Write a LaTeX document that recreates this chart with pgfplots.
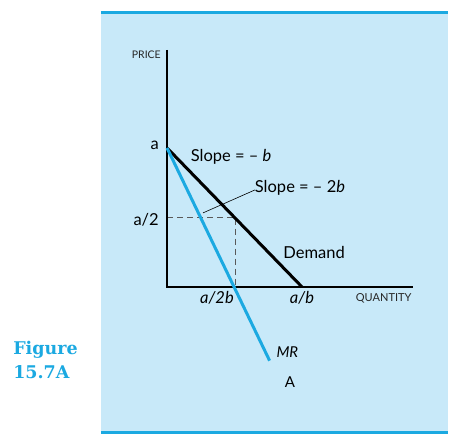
\documentclass[border=0pt]{standalone}
\usepackage{fontspec}
\setmainfont{Lato}
\newfontfamily\figfont{DejaVu Serif}
\usepackage{pgfplots}
\pgfplotsset{compat=1.18}
\definecolor{panelblue}{RGB}{200,233,249}
\definecolor{cyanline}{RGB}{27,169,225}
\begin{document}
\begin{tikzpicture}
\begin{axis}[
  at={(0,0)}, anchor=south west,
  scale only axis, width=347pt, height=420pt,
  xmin=-0.978, xmax=4.163, ymin=-2.10, ymax=3.94,
  axis line style={draw=none},
  xtick=\empty, ytick=\empty,
  axis background/.style={fill=panelblue},
  clip=false,
]
% top and bottom rules
\draw[cyanline, line width=3pt] (rel axis cs:0,1) -- (rel axis cs:1,1);
\draw[cyanline, line width=3pt] (rel axis cs:0,0) -- (rel axis cs:1,0);
% dashed guides
\addplot[gray!70!black, line width=0.9pt, dash pattern=on 6pt off 4pt] coordinates {(0,1) (1.02,1) (1.02,0)};
% axes
\addplot[black, line width=2.6pt] coordinates {(0,3.41) (0,0) (3.64,0)};
% demand
\addplot[black, line width=3pt] coordinates {(0,2) (2,0)};
% MR
\addplot[cyanline, line width=3pt] coordinates {(0,2) (1.52,-1.06)};
% leader line
\addplot[black, line width=0.6pt] coordinates {(0.533,1.065) (1.304,1.396)};
% labels
\node[anchor=east, font=\fontsize{10.5}{12}\selectfont, text=black!85] at (axis cs:-0.04,3.338) {PRICE};
\node[anchor=east, font=\fontsize{16.5}{18}\selectfont] at (axis cs:-0.07,2.04) {a};
\node[anchor=east, font=\fontsize{16.5}{18}\selectfont] at (axis cs:-0.07,0.97) {a/2};
\node[font=\fontsize{16.5}{18}\selectfont] at (axis cs:0.74,-0.16) {\itshape a/2b};
\node[font=\fontsize{16.5}{18}\selectfont] at (axis cs:2.0,-0.16) {\itshape a/b};
\node[font=\fontsize{11}{12}\selectfont, text=black!85] at (axis cs:3.21,-0.17) {QUANTITY};
\node[font=\fontsize{16.5}{18}\selectfont] at (axis cs:0.95,1.87) {Slope = -- \textit{b}};
\node[font=\fontsize{16.5}{18}\selectfont] at (axis cs:1.97,1.42) {Slope = -- 2\textit{b}};
\node[font=\fontsize{16.5}{18}\selectfont] at (axis cs:2.18,0.50) {Demand};
\node[anchor=west, font=\fontsize{15}{17}\selectfont] at (axis cs:1.57,-0.935) {\itshape MR};
\node[font=\fontsize{15}{17}\selectfont] at (axis cs:1.82,-1.367) {A};
\node[anchor=west, align=left, text=cyanline, font=\figfont\bfseries\fontsize{17.5}{24}\selectfont] at (axis cs:-2.33,-1.05) {Figure\\15.7A};
\end{axis}
\path (-101pt,-13pt) rectangle (359pt,433pt);
\end{tikzpicture}
\end{document}
